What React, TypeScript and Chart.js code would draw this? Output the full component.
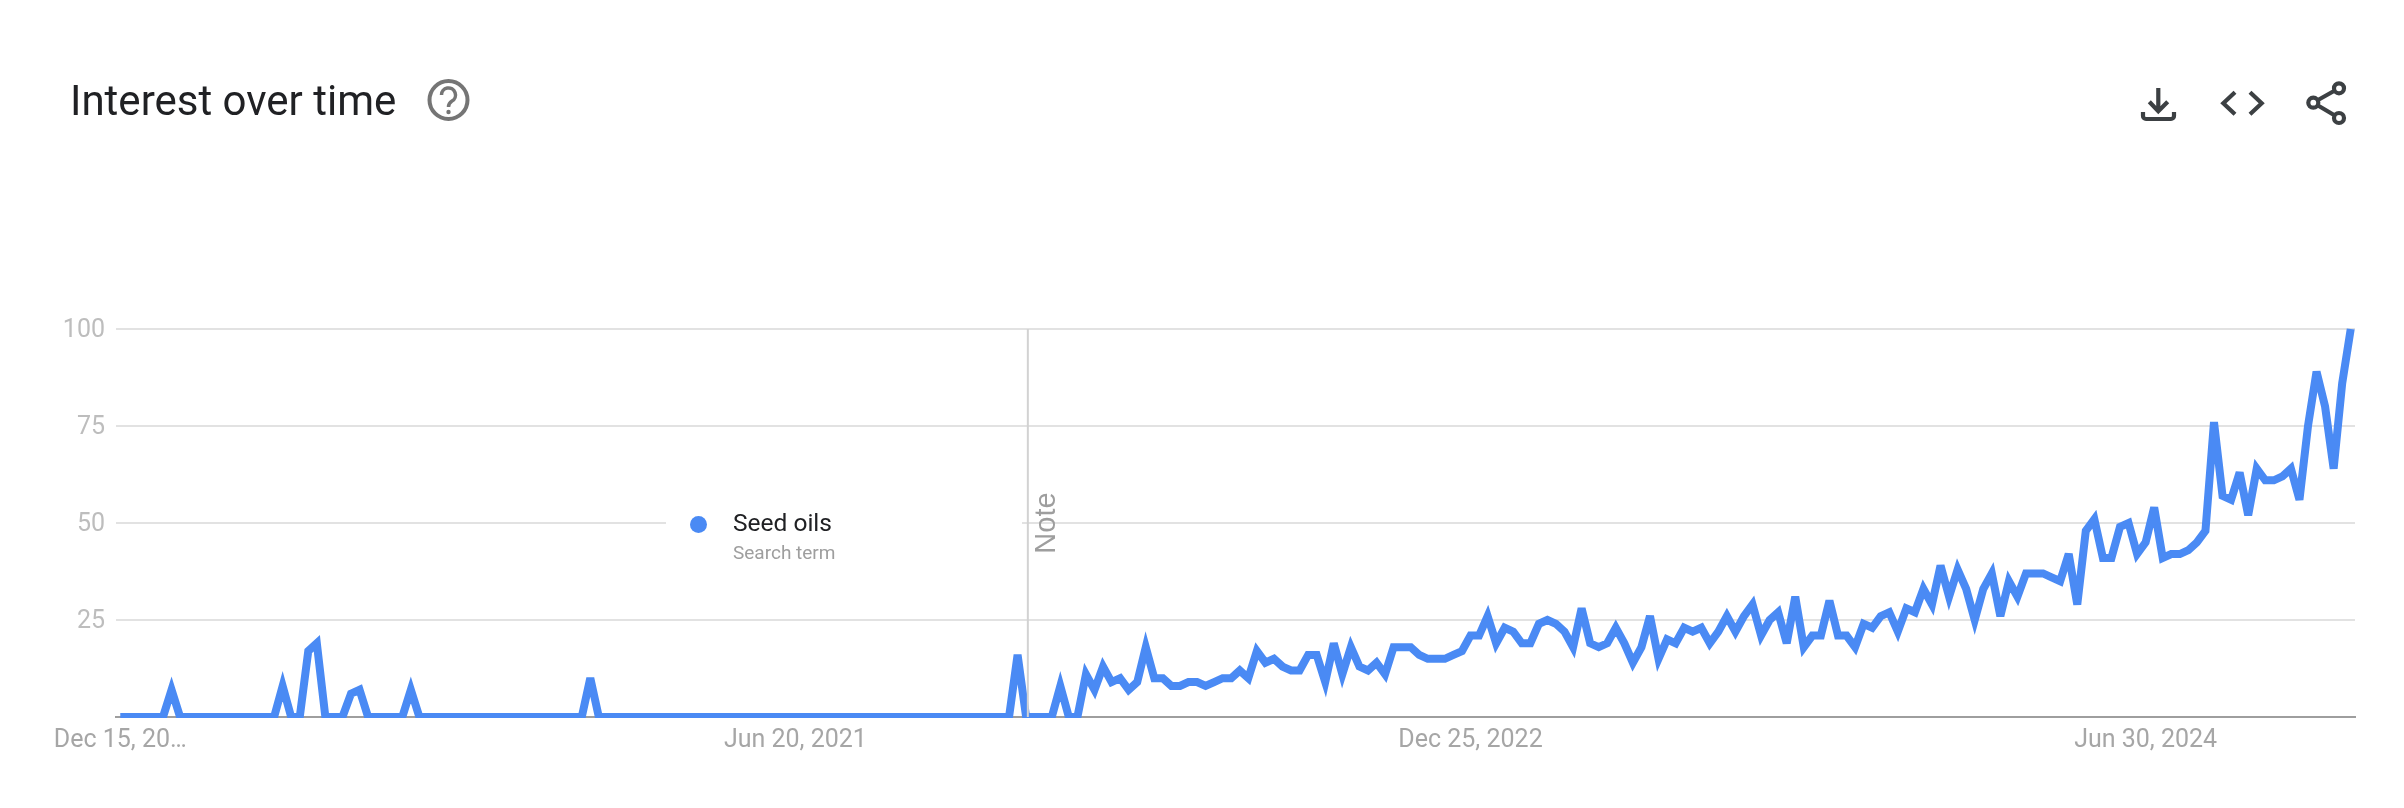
import React, { useEffect, useRef } from "react";
import { Chart, registerables } from "chart.js";

Chart.register(...registerables);

const seriesName = "Seed oils";
const seriesKind = "Search term";
const titleText = "Interest over time";
const noteText = "Note";

const firstWeek = "2019-12-15";
const seedOils = [
  0, 0, 0, 0, 0, 0, 7, 0, 0, 0, 0, 0, 0, 0, 0, 0, 0, 0, 0, 8,
  0, 0, 17, 19, 0, 0, 0, 6, 7, 0, 0, 0, 0, 0, 7, 0, 0, 0, 0, 0,
  0, 0, 0, 0, 0, 0, 0, 0, 0, 0, 0, 0, 0, 0, 0, 10, 0, 0, 0, 0,
  0, 0, 0, 0, 0, 0, 0, 0, 0, 0, 0, 0, 0, 0, 0, 0, 0, 0, 0, 0,
  0, 0, 0, 0, 0, 0, 0, 0, 0, 0, 0, 0, 0, 0, 0, 0, 0, 0, 0, 0,
  0, 0, 0, 0, 0, 16, 0, 0, 0, 0, 8, 0, 0, 11, 7, 13, 9, 10, 7, 9,
  18, 10, 10, 8, 8, 9, 9, 8, 9, 10, 10, 12, 10, 17, 14, 15, 13, 12, 12, 16,
  16, 9, 19, 11, 18, 13, 12, 14, 11, 18, 18, 18, 16, 15, 15, 15, 16, 17, 21, 21,
  26, 19, 23, 22, 19, 19, 24, 25, 24, 22, 18, 28, 19, 18, 19, 23, 19, 14, 18, 26,
  15, 20, 19, 23, 22, 23, 19, 22, 26, 22, 26, 29, 21, 25, 27, 19, 31, 18, 21, 21,
  30, 21, 21, 18, 24, 23, 26, 27, 22, 28, 27, 33, 29, 39, 31, 38, 33, 25, 33, 37,
  26, 35, 31, 37, 37, 37, 36, 35, 42, 29, 48, 51, 41, 41, 49, 50, 42, 45, 54, 41,
  42, 42, 43, 45, 48, 76, 57, 56, 63, 52, 64, 61, 61, 62, 64, 56, 75, 89, 80, 64,
  86, 100,
];

const xTickWeeks = [0, 79, 158, 237];
const xTickLabels = ["Dec 15, 20…", "Jun 20, 2021", "Dec 25, 2022", "Jun 30, 2024"];
const yTickValues = [25, 50, 75, 100];
const noteWeek = 106.2;

const weekLabels = seedOils.map((_, i) => {
  const d = new Date(firstWeek + "T00:00:00Z");
  d.setUTCDate(d.getUTCDate() + i * 7);
  return d.toISOString().slice(0, 10);
});

const pageFont = "Roboto, sans-serif";

const chartExtras = {
  id: "trendsExtras",
  beforeDatasetsDraw(chart: any) {
    chart.ctx.miterLimit = 4;
  },
  afterDatasetsDraw(chart: any) {
    const { ctx, scales } = chart;
    const x = scales.x.getPixelForValue(noteWeek);
    ctx.save();
    ctx.strokeStyle = "#d2d2d2";
    ctx.lineWidth = 2;
    ctx.beginPath();
    ctx.moveTo(x, scales.y.top);
    ctx.lineTo(x, scales.y.bottom);
    ctx.stroke();
    ctx.restore();
  },
};

export default function App() {
  const ref = useRef<HTMLCanvasElement>(null);

  useEffect(() => {
    document.body.style.margin = "0";
    document.body.style.background = "#fff";
    const chart = new Chart(ref.current as HTMLCanvasElement, {
      type: "line",
      plugins: [chartExtras],
      data: {
        labels: weekLabels,
        datasets: [
          {
            label: seriesName,
            data: seedOils,
            borderColor: "#4a8af4",
            borderWidth: 8,
            borderJoinStyle: "miter",
            borderCapStyle: "butt",
            pointRadius: 0,
            tension: 0,
            fill: false,
            clip: 1,
          },
        ],
      },
      options: {
        animation: false,
        responsive: false,
        devicePixelRatio: 1,
        layout: {
          autoPadding: false,
          padding: { left: 0, top: 329, right: 49, bottom: 0 },
        },
        plugins: { legend: { display: false }, tooltip: { enabled: false } },
        scales: {
          x: {
            type: "category",
            offset: true,
            afterFit(scale: any) {
              scale.height = 91;
            },
            grid: { display: false, drawTicks: false },
            border: { display: true, color: "#9e9e9e", width: 2 },
            ticks: {
              autoSkip: false,
              maxRotation: 0,
              minRotation: 0,
              padding: 9,
              color: "#a6a6a6",
              font: { family: pageFont, size: 25 },
              callback(_v: any, i: number) {
                const k = xTickWeeks.indexOf(i);
                return k >= 0 ? xTickLabels[k] : "";
              },
            },
          },
          y: {
            min: 0,
            max: 100,
            afterFit(scale: any) {
              scale.width = 116;
            },
            afterBuildTicks(scale: any) {
              scale.ticks = [0, ...yTickValues].map((value) => ({ value }));
            },
            grid: {
              drawTicks: false,
              lineWidth: 2,
              color: (c: any) => (c.tick && c.tick.value === 0 ? "rgba(0,0,0,0)" : "#e2e2e2"),
            },
            border: { display: false },
            ticks: {
              padding: 11,
              labelOffset: 2,
              color: "#bdbdbd",
              font: { family: pageFont, size: 25 },
              callback: (v: any) => (v === 0 ? "" : String(v)),
            },
          },
        },
      },
    } as any);
    return () => chart.destroy();
  }, []);

  return (
    <div style={{ position: "absolute", left: 0, top: 0, width: 2404, height: 808, overflow: "hidden", background: "#fff" }}>
      <canvas ref={ref} width={2404} height={808} style={{ position: "absolute", left: 0, top: 0, display: "block", width: 2404, height: 808 }} />

      <div style={{ position: "absolute", left: 70, top: 76, fontFamily: pageFont, fontSize: 42, lineHeight: "50px", color: "#202124", whiteSpace: "nowrap" }}>
        {titleText}
      </div>

      <svg width={2404} height={808} style={{ position: "absolute", left: 0, top: 0, pointerEvents: "none" }}>
        <g fill="none" stroke="#757575" strokeWidth={4}>
          <circle cx={448.5} cy={100} r={19} />
          <path d="M441.5 95 a7 7 0 1 1 10.5 6 c-2.5 1.5 -3.5 3 -3.5 6" strokeWidth={3.5} />
        </g>
        <circle cx={448.5} cy={112} r={2.2} fill="#757575" />
        <g fill="none" stroke="#3c4043" strokeWidth={4.2}>
          <path d="M2158.3 88 V111 M2149.3 101.7 L2158.3 111.2 L2167.7 101.7" />
          <path d="M2143 112 V116 a3 3 0 0 0 3 3 H2171 a3 3 0 0 0 3 -3 V112" />
          <path d="M2235 92.3 L2223.3 103.3 L2235 114.3 M2250 92.3 L2261.7 103.3 L2250 114.3" />
          <path d="M2318 100 L2334 91 M2318 105.5 L2334 115" />
          <circle cx={2339} cy={88.3} r={5} />
          <circle cx={2313.3} cy={102.7} r={5} />
          <circle cx={2339} cy={118} r={5} />
        </g>
      </svg>

      <div style={{ position: "absolute", left: 666, top: 498, width: 356, height: 76, background: "#fff" }} />
      <div style={{ position: "absolute", left: 689.5, top: 515.5, width: 17, height: 17, borderRadius: "50%", background: "#4a8af4" }} />
      <div style={{ position: "absolute", left: 733, top: 508, fontFamily: pageFont, fontSize: 24.5, lineHeight: "30px", color: "#202124", whiteSpace: "nowrap" }}>
        {seriesName}
      </div>
      <div style={{ position: "absolute", left: 733, top: 541, fontFamily: pageFont, fontSize: 19, lineHeight: "24px", color: "#9e9e9e", whiteSpace: "nowrap" }}>
        {seriesKind}
      </div>

      <div
        style={{
          position: "absolute",
          left: 1045,
          top: 522.5,
          transform: "translate(-50%, -50%) rotate(-90deg)",
          fontFamily: "'Liberation Sans', Arial, sans-serif",
          fontSize: 29,
          lineHeight: "30px",
          color: "#9e9e9e",
          whiteSpace: "nowrap",
        }}
      >
        {noteText}
      </div>
    </div>
  );
}
